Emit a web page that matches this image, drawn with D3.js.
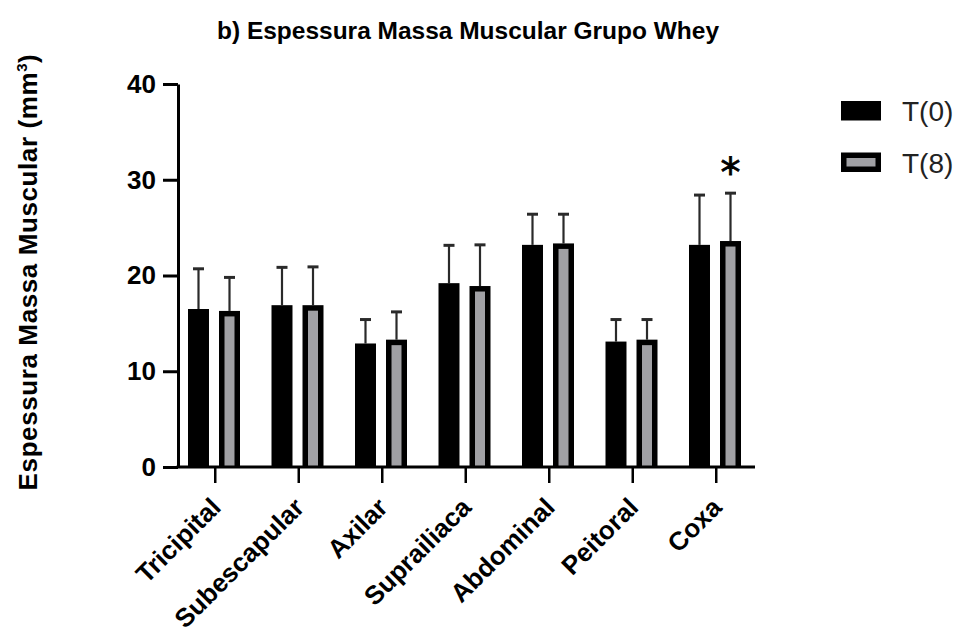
<!DOCTYPE html>
<html>
<head>
<meta charset="utf-8">
<script src="https://cdn.jsdelivr.net/npm/d3@7"></script>
<style>
  body { margin: 0; background: #fff; }
  svg { display: block; }
</style>
</head>
<body>
<div id="chart"></div>
<script>
// Data
const sites = ["Tricipital", "Subescapular", "Axilar", "Suprailiaca", "Abdominal", "Peitoral", "Coxa"];
const seriesNames = ["T(0)", "T(8)"];
const meanT0 = [16.5, 16.9, 12.9, 19.2, 23.2, 13.1, 23.2];
const sdT0 = [4.2, 3.95, 2.5, 3.95, 3.2, 2.3, 5.2];
const meanT8 = [16.3, 16.9, 13.3, 18.9, 23.35, 13.3, 23.6];
const sdT8 = [3.5, 4.0, 2.9, 4.3, 3.05, 2.1, 5.0];
const significant = ["Coxa"];
const yTicks = [0, 10, 20, 30, 40];

const width = 967, height = 637;
const grayFill = "#a0a0a4";

const svg = d3.select("#chart").append("svg")
  .attr("width", width)
  .attr("height", height)
  .style("font-family", "'Liberation Sans', Arial, sans-serif");

const x = d3.scaleBand().domain(sites).range([173.5, 758]).padding(0);
const x1 = d3.scaleBand().domain(seriesNames).range([14.5, 66.5]).paddingInner(0.323);
const y = d3.scaleLinear().domain([0, 40]).range([467, 84]);

const rows = sites.map((s, i) => [
  { site: s, series: "T(0)", mean: meanT0[i], sd: sdT0[i] },
  { site: s, series: "T(8)", mean: meanT8[i], sd: sdT8[i] }
]).flat();

// Title
svg.append("text")
  .attr("x", 468)
  .attr("y", 39)
  .attr("text-anchor", "middle")
  .style("font-family", "'Liberation Sans Narrow', 'Arial Narrow', sans-serif")
  .style("font-weight", "bold")
  .style("font-size", "24px")
  .attr("textLength", 502)
  .attr("lengthAdjust", "spacingAndGlyphs")
  .text("b) Espessura Massa Muscular Grupo Whey");

// Y axis title
const yTitle = svg.append("text")
  .attr("transform", "translate(37,272) rotate(-90)")
  .attr("text-anchor", "middle")
  .style("font-weight", "bold")
  .style("font-size", "26px")
  .style("letter-spacing", "0.6px");
yTitle.append("tspan").text("Espessura Massa Muscular (mm");
yTitle.append("tspan").attr("dy", -10).style("font-size", "15px").text("3");
yTitle.append("tspan").attr("dy", 10).text(")");

// Error bars (upper only)
const err = svg.append("g");
rows.forEach(d => {
  const cx = x(d.site) + x1(d.series) + x1.bandwidth() / 2;
  err.append("line")
    .attr("x1", cx).attr("x2", cx)
    .attr("y1", y(d.mean)).attr("y2", y(d.mean + d.sd))
    .attr("stroke", "#2a2a2a").attr("stroke-width", 2.2);
  err.append("line")
    .attr("x1", cx - 5.5).attr("x2", cx + 5.5)
    .attr("y1", y(d.mean + d.sd)).attr("y2", y(d.mean + d.sd))
    .attr("stroke", "#2a2a2a").attr("stroke-width", 3);
});

// Bars
const bars = svg.append("g");
bars.selectAll("rect.outer")
  .data(rows)
  .join("rect")
  .attr("class", "outer")
  .attr("x", d => x(d.site) + x1(d.series))
  .attr("y", d => y(d.mean))
  .attr("width", x1.bandwidth())
  .attr("height", d => y(0) - y(d.mean))
  .attr("fill", "#000");

const inset = 5.5;
bars.selectAll("rect.inner")
  .data(rows.filter(d => d.series === "T(8)"))
  .join("rect")
  .attr("class", "inner")
  .attr("x", d => x(d.site) + x1(d.series) + inset)
  .attr("y", d => y(d.mean) + inset)
  .attr("width", x1.bandwidth() - 2 * inset)
  .attr("height", d => Math.max(0, y(0) - y(d.mean) - inset - 1))
  .attr("fill", grayFill);

// Significance marker
rows.filter(d => d.series === "T(8)" && significant.includes(d.site)).forEach(d => {
  svg.append("text")
    .attr("x", x(d.site) + x1(d.series) + x1.bandwidth() / 2)
    .attr("y", y(d.mean + d.sd) - 6)
    .attr("text-anchor", "middle")
    .style("font-size", "40px")
    .style("font-family", "'DejaVu Sans', sans-serif")
    .attr("stroke", "#000")
    .attr("stroke-width", 0.8)
    .text("*");
});

// Y axis
const yAxis = svg.append("g")
  .attr("transform", "translate(178,0)")
  .call(d3.axisLeft(y).tickValues(yTicks).tickSize(15).tickSizeOuter(0).tickPadding(7));
yAxis.select(".domain").attr("stroke-width", 3);
yAxis.selectAll(".tick line").attr("stroke-width", 3);
yAxis.selectAll(".tick text")
  .style("font-size", "26px")
  .style("font-weight", "bold")
  .attr("fill", "#000")
  .style("font-family", "'Liberation Sans', Arial, sans-serif");

// X axis
const xAxis = svg.append("g")
  .attr("transform", `translate(0,${y(0)})`)
  .call(d3.axisBottom(x).tickSize(16).tickSizeOuter(0).tickFormat(""));
xAxis.select(".domain").remove();
xAxis.selectAll(".tick line").attr("stroke-width", 2.5);
svg.append("line")
  .attr("x1", 176.5).attr("x2", 755)
  .attr("y1", y(0)).attr("y2", y(0))
  .attr("stroke", "#000").attr("stroke-width", 3);

svg.append("g")
  .selectAll("text")
  .data(sites)
  .join("text")
  .attr("transform", d => `translate(${x(d) + x.bandwidth() / 2 + 7},${y(0) + 42}) rotate(-45)`)
  .attr("text-anchor", "end")
  .style("font-size", "26px")
  .style("font-weight", "bold")
  .text(d => d);

// Legend
const legend = svg.append("g");
seriesNames.forEach((name, i) => {
  const ly = 101 + i * 51.5;
  legend.append("rect")
    .attr("x", 841).attr("y", ly).attr("width", 40).attr("height", 19.5)
    .attr("fill", "#000");
  if (i === 1) {
    legend.append("rect")
      .attr("x", 846.5).attr("y", ly + 5.5).attr("width", 29).attr("height", 8.5)
      .attr("fill", grayFill);
  }
  legend.append("text")
    .attr("x", 902).attr("y", ly + 20)
    .style("font-size", "28px")
    .attr("fill", "#222")
    .text(name);
});
</script>
</body>
</html>
